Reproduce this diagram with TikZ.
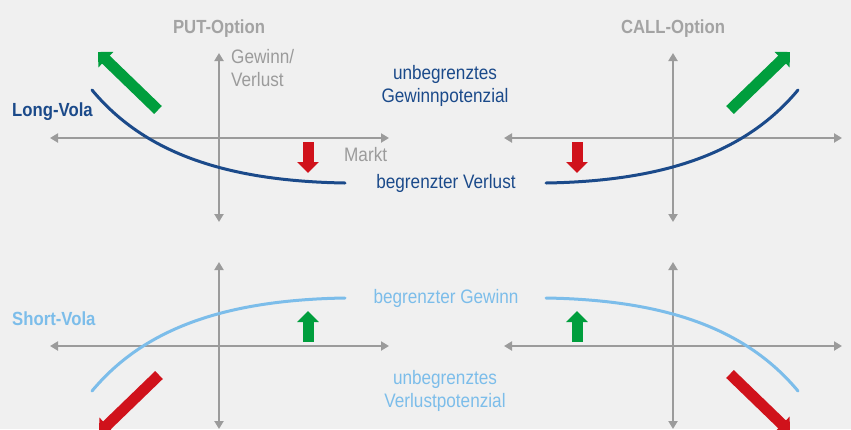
\documentclass[tikz,border=0pt]{standalone}
\usepackage{fontspec}
\setmainfont{Liberation Sans}[FakeStretch=0.88]
\usepackage{tikz}
\usetikzlibrary{arrows.meta}

\definecolor{bggray}{HTML}{F0F0F0}
\definecolor{axisgray}{HTML}{9B9B9B}
\definecolor{titlegray}{HTML}{A3A3A3}
\definecolor{longblue}{HTML}{1B4A8A}
\definecolor{shortblue}{HTML}{7CBDEA}
\definecolor{upgreen}{HTML}{009E3D}
\definecolor{downred}{HTML}{D0121B}

\tikzset{
	axis/.style={draw=axisgray, line width=2pt, {Triangle[width=9pt,length=8pt]}-{Triangle[width=9pt,length=8pt]}},
	payoff/.style={line width=3pt, line cap=round},
	fatarrow/.style={line width=11pt, -{Triangle[width=21pt,length=11pt]}},
	title/.style={text=titlegray, font=\fontsize{19}{23}\selectfont\bfseries, anchor=base},
	vola/.style={font=\fontsize{19}{23}\selectfont\bfseries, anchor=base west, inner sep=0pt},
	label/.style={font=\fontsize{19.5}{23}\selectfont, anchor=base, inner sep=0pt, align=center}
}

\begin{document}
\begin{tikzpicture}[x=1pt, y=-1pt]
	\fill[bggray] (0,0) rectangle (851,429);
	\useasboundingbox (0,0) rectangle (851,429);
	\clip (0,0) rectangle (851,429);

	% axes
	\coordinate (pl) at (50,138);  \coordinate (pr) at (389,138);
	\coordinate (pt) at (219,53);  \coordinate (pb) at (219,222);
	\coordinate (cl) at (504,138); \coordinate (cr) at (842,138);
	\coordinate (ct) at (673,53);  \coordinate (cb) at (673,222);
	\coordinate (spl) at (50,346);  \coordinate (spr) at (389,346);
	\coordinate (spt) at (219,262); \coordinate (spb) at (219,429);
	\coordinate (scl) at (504,346); \coordinate (scr) at (842,346);
	\coordinate (sct) at (673,262); \coordinate (scb) at (673,429);
	\draw[axis] (pl) -- (pr);
	\draw[axis] (pb) -- (pt);
	\draw[axis] (cl) -- (cr);
	\draw[axis] (cb) -- (ct);
	\draw[axis] (spl) -- (spr);
	\draw[axis] (spb) -- (spt);
	\draw[axis] (scl) -- (scr);
	\draw[axis] (scb) -- (sct);

	\node[title] (put) at (219,33) {PUT-Option};
	\node[title] (call) at (673,33) {CALL-Option};
	\node[label, text=axisgray, align=left, anchor=base west] (gv) at (231,86) {Gewinn/\\Verlust};
	\node[label, text=axisgray, anchor=base west] (markt) at (344,161) {Markt};

	\node[vola, text=longblue] (long) at (12,116) {Long-Vola};
	\node[vola, text=shortblue] (short) at (12,325) {Short-Vola};

	\node[label, text=longblue] (ugp) at (445,102) {unbegrenztes\\Gewinnpotenzial};
	\node[label, text=longblue] (bv) at (446,188) {begrenzter Verlust};
	\node[label, text=shortblue] (bg) at (446,303) {begrenzter Gewinn};
	\node[label, text=shortblue] (uvp) at (445,407) {unbegrenztes\\Verlustpotenzial};

	% payoff curves
	\draw[payoff, longblue] (92,90) .. controls (142,150) and (220,181) .. (345,183);
	\draw[payoff, longblue] (798,90) .. controls (748,150) and (670,181) .. (546,183);
	\draw[payoff, shortblue] (92,391) .. controls (142,331) and (220,300) .. (345,298);
	\draw[payoff, shortblue] (798,391) .. controls (748,331) and (670,300) .. (546,298);

	% direction arrows
	\draw[fatarrow, upgreen] (158,110) -- (98,52);
	\draw[fatarrow, upgreen] (730,110) -- (790,52);
	\draw[fatarrow, downred] (308,142) -- (308,173);
	\draw[fatarrow, downred] (577,142) -- (577,173);
	\draw[fatarrow, upgreen] (308,342) -- (308,311);
	\draw[fatarrow, upgreen] (577,342) -- (577,311);
	\draw[fatarrow, downred] (159,375) -- (99,433);
	\draw[fatarrow, downred] (730,374) -- (790,432);
\end{tikzpicture}
\end{document}
